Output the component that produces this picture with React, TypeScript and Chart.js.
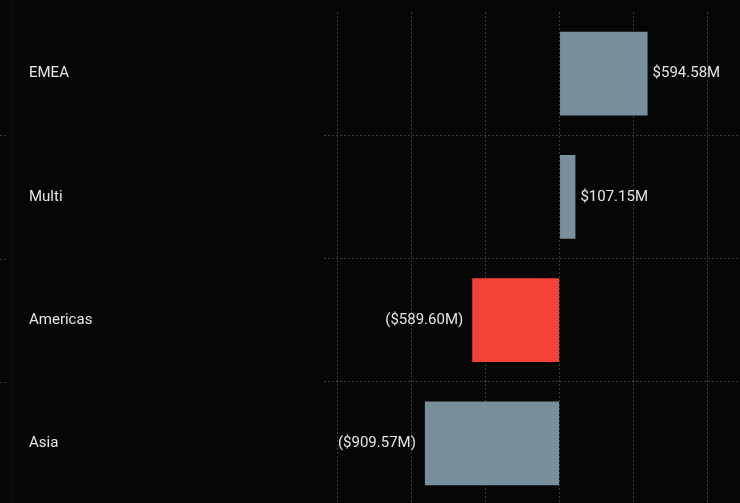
import React, { useEffect, useRef } from 'react';
import { Chart, registerables } from 'chart.js';

Chart.register(...registerables);

const categories = ['EMEA', 'Multi', 'Americas', 'Asia'];
const values = [594.58, 107.15, -589.6, -909.57];
const barColors = ['#78909C', '#78909C', '#F44336', '#78909C'];
const gridValues = [-1500, -1000, -500, 0, 500, 1000];

const fmt = (v: number) => {
  const s = '$' + Math.abs(v).toFixed(2) + 'M';
  return v < 0 ? '(' + s + ')' : s;
};

const FONT = 'Roboto, "Noto Sans", sans-serif';
const GRID = 'rgba(255,255,255,0.22)';

const valueLabels = {
  id: 'valueLabels',
  afterDatasetsDraw(chart: any) {
    const ctx = chart.ctx;
    const meta = chart.getDatasetMeta(0);
    ctx.save();
    ctx.font = '15px ' + FONT;
    ctx.fillStyle = '#e6e6e6';
    ctx.textBaseline = 'middle';
    meta.data.forEach((bar: any, i: number) => {
      const v = values[i];
      if (v >= 0) {
        ctx.textAlign = 'left';
        ctx.fillText(fmt(v), bar.x + 5, bar.y);
      } else {
        ctx.textAlign = 'right';
        ctx.fillText(fmt(v), bar.x - 9, bar.y);
      }
    });
    ctx.restore();
  },
};

const edgeDashes = {
  id: 'edgeDashes',
  afterDraw(chart: any) {
    const ctx = chart.ctx;
    const y = chart.scales.y;
    ctx.save();
    ctx.strokeStyle = GRID;
    ctx.lineWidth = 1;
    ctx.setLineDash([2, 2]);
    for (let i = 1; i < categories.length; i++) {
      const py = Math.round((y.getPixelForTick(i - 1) + y.getPixelForTick(i)) / 2) + 0.5;
      ctx.beginPath();
      ctx.moveTo(0, py);
      ctx.lineTo(6, py);
      ctx.stroke();
    }
    ctx.restore();
  },
};

export default function App() {
  const ref = useRef<HTMLCanvasElement | null>(null);
  useEffect(() => {
    document.body.style.margin = '0';
    if (!ref.current) return;
    const chart = new Chart(ref.current, {
      type: 'bar',
      data: {
        labels: categories,
        datasets: [
          {
            data: values,
            backgroundColor: barColors,
            borderWidth: 0,
            barPercentage: 0.68,
            categoryPercentage: 1,
          },
        ],
      },
      plugins: [valueLabels, edgeDashes],
      options: {
        indexAxis: 'y',
        animation: false,
        responsive: true,
        maintainAspectRatio: false,
        layout: { padding: { top: 12, left: 29, right: 0, bottom: 0 } },
        plugins: { legend: { display: false }, tooltip: { enabled: false } },
        scales: {
          x: {
            min: -1591,
            max: 1219,
            afterBuildTicks: (scale: any) => {
              scale.ticks = gridValues.map((v) => ({ value: v }));
            },
            ticks: { display: false },
            grid: {
              color: GRID,
              lineWidth: 1,
              drawTicks: false,
            },
            border: { display: false, dash: [2, 2] },
          } as any,
          y: {
            afterFit: (scale: any) => {
              scale.width = 295;
              scale.paddingTop = 0;
              scale.paddingBottom = 0;
            },
            ticks: {
              crossAlign: 'far',
              color: '#e6e6e6',
              font: { family: FONT, size: 15 },
              padding: 0,
            },
            grid: {
              offset: true,
              drawTicks: false,
              color: (c: any) => (c.index === 0 ? 'rgba(0,0,0,0)' : GRID),
            },
            border: { display: false, dash: [2, 2] },
          } as any,
        },
      },
    });
    return () => chart.destroy();
  }, []);
  return (
    <div
      style={{
        position: 'fixed',
        left: 0,
        top: 0,
        width: 740,
        height: 503,
        overflow: 'hidden',
        background:
          'linear-gradient(to right, #060606 0px, #060606 9px, #0b0b0b 9px, #0b0b0b 15px, #060606 15px)',
      }}
    >
      <div style={{ position: 'relative', width: 740, height: 505 }}>
        <canvas ref={ref} />
      </div>
    </div>
  );
}
